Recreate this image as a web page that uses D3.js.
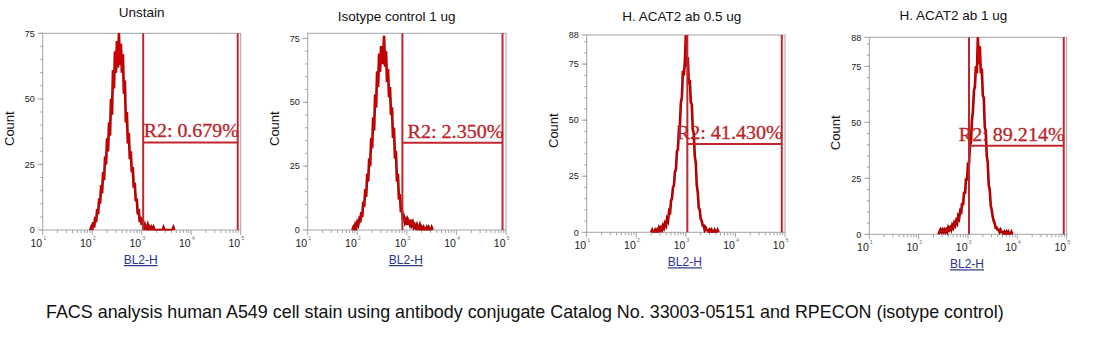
<!DOCTYPE html>
<html>
<head>
<meta charset="utf-8">
<script src="https://cdn.jsdelivr.net/npm/d3@7"></script>
<style>
  html, body { margin: 0; padding: 0; background: #fff; }
  svg { display: block; }
</style>
</head>
<body>
<svg id="chart" width="1117" height="360"></svg>
<script>
// ---------------- DATA ----------------
const panelTitles = ["Unstain", "Isotype control 1 ug", "H. ACAT2 ab 0.5 ug", "H. ACAT2 ab 1 ug"];
const xAxisLabel = "BL2-H";
const yAxisLabel = "Count";
const xTickExponents = [1, 2, 3, 4, 5];
const yMaxes = [75, 77, 88, 88];
const yTickValues = [[0, 25, 50, 75], [0, 25, 50, 75], [0, 25, 50, 75, 88], [0, 25, 50, 75, 88]];
const binWidthLog = 0.02; // decades per histogram bin

const hist1Start = 1.96;
const hist1Counts = [0, 1, 0, 3, 1, 5, 3, 8, 6, 12, 10, 17, 14, 22, 19, 28, 25, 35, 30, 41,
  36, 50, 44, 61, 54, 68, 60, 72, 62, 75, 63, 71, 60, 67, 52, 57, 41, 45, 33, 37,
  27, 30, 22, 24, 16, 18, 11, 12, 6, 8, 3, 5, 2, 3, 1, 2, 0, 1, 2, 0,
  1, 0, 1, 0, 1, 0, 0, 0, 0, 0, 0, 0, 0, 0, 1, 0, 0, 0, 0, 0,
  0, 0, 0, 0, 1, 0];

const hist2Start = 1.90;
const hist2Counts = [0, 1, 0, 2, 1, 3, 2, 4, 3, 7, 5, 11, 9, 16, 13, 22, 19, 28, 25, 36,
  32, 44, 39, 53, 48, 62, 56, 69, 62, 72, 65, 66, 76, 64, 70, 58, 63, 52, 56, 45,
  48, 36, 40, 28, 31, 19, 22, 12, 14, 7, 8, 4, 5, 3, 4, 2, 4, 3, 2, 4,
  2, 3, 1, 2, 1, 2, 0, 1, 2, 0, 1, 0, 1, 0, 0, 1, 0, 1, 0, 0,
  1, 0];

const hist3Start = 2.30;
const hist3Counts = [0, 1, 0, 0, 1, 0, 1, 0, 2, 1, 2, 1, 3, 2, 4, 3, 6, 5, 9, 8,
  14, 15, 20, 21, 27, 28, 36, 37, 46, 48, 58, 60, 72, 70, 76, 88, 74, 78, 66, 68,
  58, 57, 46, 44, 34, 31, 21, 18, 11, 10, 6, 5, 3, 3, 1, 2, 1, 1, 0, 1,
  0, 1, 0, 0, 1, 0, 0, 1, 0];

const hist4Start = 2.40;
const hist4Counts = [0, 1, 2, 1, 2, 1, 2, 1, 2, 1, 3, 2, 3, 2, 4, 3, 5, 4, 6, 5,
  8, 7, 10, 9, 14, 13, 19, 18, 25, 24, 32, 31, 40, 41, 51, 55, 64, 66, 75, 72,
  88, 76, 84, 72, 74, 62, 61, 48, 46, 35, 32, 22, 20, 13, 11, 8, 6, 5, 3, 3,
  2, 2, 1, 2, 1, 1, 0, 1, 0, 1, 0, 1, 0, 0, 1, 0];

const histStarts = [hist1Start, hist2Start, hist3Start, hist4Start];
const histCounts = [hist1Counts, hist2Counts, hist3Counts, hist4Counts];

const gateLowLog = [3.03, 2.91, 3.03, 3.02];
const gateHighLog = [4.94, 4.93, 4.935, 4.94];
const gateCount = [33.4, 34.2, 39.4, 39.6];
const gateLabels = ["R2: 0.679%", "R2: 2.350%", "R2: 41.430%", "R2: 89.214%"];

const captionText = "FACS analysis human A549 cell stain using antibody conjugate Catalog No. 33003-05151 and RPECON (isotype control)";

// ---------------- LAYOUT ----------------
const plotBoxes = [
  { left: 42.7, right: 240.7, top: 33.3, bottom: 230 },
  { left: 307.7, right: 506, top: 33.3, bottom: 230 },
  { left: 586.7, right: 785, top: 35, bottom: 232.3 },
  { left: 869.3, right: 1066.7, top: 37.3, bottom: 234.3 }
];
const titlePos = [
  { x: 141.7, y: 17 },
  { x: 396.7, y: 21 },
  { x: 681.7, y: 20.5 },
  { x: 953.3, y: 20 }
];
const gateLabelWidths = [95, 96, 106, 106];

const axisColor = "#a4a4a4";
const histColor = "#b00000";
const gateColor = "#c0262b";

const svg = d3.select("#chart");
const defs = svg.append("defs");

plotBoxes.forEach((b, i) => {
  const g = svg.append("g");
  const x = d3.scaleLog().domain([10, 1e5]).range([b.left, b.right]);
  const y = d3.scaleLinear().domain([0, yMaxes[i]]).range([b.bottom, b.top]);

  defs.append("clipPath").attr("id", "clip" + i)
    .append("rect").attr("x", b.left).attr("y", b.top - 0.5)
    .attr("width", b.right - b.left).attr("height", b.bottom - b.top + 1);

  // frame
  g.append("rect")
    .attr("x", b.left).attr("y", b.top)
    .attr("width", b.right - b.left).attr("height", b.bottom - b.top)
    .attr("fill", "none").attr("stroke", axisColor).attr("stroke-width", 1);

  // y ticks
  const yMinor = d3.range(0, yMaxes[i] + 0.001, 5);
  g.selectAll(".ymin").data(yMinor).join("line")
    .attr("x1", b.left - 2.5).attr("x2", b.left)
    .attr("y1", d => y(d)).attr("y2", d => y(d))
    .attr("stroke", axisColor).attr("stroke-width", 1);
  g.selectAll(".ymaj").data(yTickValues[i]).join("line")
    .attr("x1", b.left - 5).attr("x2", b.left)
    .attr("y1", d => y(d)).attr("y2", d => y(d))
    .attr("stroke", axisColor).attr("stroke-width", 1);
  g.selectAll(".ylab").data(yTickValues[i]).join("text")
    .attr("x", b.left - 8).attr("y", d => y(d) + 3.2)
    .attr("text-anchor", "end")
    .attr("font-family", "Liberation Sans, Arial, sans-serif")
    .attr("font-size", 9).attr("fill", "#222")
    .text(d => d);

  // x ticks
  const xMinor = [];
  for (let e = 1; e < 5; e++) for (let m = 2; m <= 9; m++) xMinor.push(m * Math.pow(10, e));
  g.selectAll(".xmin").data(xMinor).join("line")
    .attr("x1", d => x(d)).attr("x2", d => x(d))
    .attr("y1", b.bottom).attr("y2", b.bottom + 3)
    .attr("stroke", axisColor).attr("stroke-width", 1);
  g.selectAll(".xmaj").data(xTickExponents).join("line")
    .attr("x1", d => x(Math.pow(10, d))).attr("x2", d => x(Math.pow(10, d)))
    .attr("y1", b.bottom).attr("y2", b.bottom + 5)
    .attr("stroke", axisColor).attr("stroke-width", 1);
  const xl = g.selectAll(".xlab").data(xTickExponents).join("g");
  xl.append("text")
    .attr("x", d => x(Math.pow(10, d)) - 0.5).attr("y", b.bottom + 17)
    .attr("text-anchor", "end")
    .attr("font-family", "Liberation Sans, Arial, sans-serif")
    .attr("font-size", 10.5).attr("fill", "#222")
    .text("10");
  xl.append("text")
    .attr("x", d => x(Math.pow(10, d)) + 0.5).attr("y", b.bottom + 10)
    .attr("text-anchor", "start")
    .attr("font-family", "Liberation Sans, Arial, sans-serif")
    .attr("font-size", 5.5).attr("fill", "#777")
    .text(d => d);

  // histogram
  const pts = histCounts[i].map((c, k) => [Math.pow(10, histStarts[i] + k * binWidthLog), c]);
  const line = d3.line().x(d => x(d[0])).y(d => y(d[1]));
  g.append("path")
    .attr("d", line(pts))
    .attr("clip-path", "url(#clip" + i + ")")
    .attr("fill", "none").attr("stroke", "#9a0000")
    .attr("stroke-width", 2.6).attr("stroke-linejoin", "miter");
  g.append("path")
    .attr("d", line(pts))
    .attr("clip-path", "url(#clip" + i + ")")
    .attr("fill", "none").attr("stroke", "#d40000")
    .attr("stroke-width", 1).attr("stroke-linejoin", "miter");

  // gate
  const gx1 = x(Math.pow(10, gateLowLog[i]));
  const gx2 = x(Math.pow(10, gateHighLog[i]));
  const gy = y(gateCount[i]);
  g.append("line").attr("x1", gx1).attr("x2", gx1).attr("y1", b.top).attr("y2", b.bottom)
    .attr("stroke", gateColor).attr("stroke-width", 2);
  g.append("line").attr("x1", gx2).attr("x2", gx2).attr("y1", b.top).attr("y2", b.bottom)
    .attr("stroke", gateColor).attr("stroke-width", 2);
  g.append("line").attr("x1", gx1).attr("x2", gx2).attr("y1", gy).attr("y2", gy)
    .attr("stroke", gateColor).attr("stroke-width", 2);
  g.append("text")
    .attr("x", gx2 + 1).attr("y", gy - 5)
    .attr("text-anchor", "end")
    .attr("font-family", "Liberation Serif, Times New Roman, serif")
    .attr("font-size", 18).attr("fill", "#b8262b")
    .attr("stroke", "#b8262b").attr("stroke-width", 0.3)
    .attr("textLength", gateLabelWidths[i]).attr("lengthAdjust", "spacingAndGlyphs")
    .text(gateLabels[i]);

  // title
  g.append("text")
    .attr("x", titlePos[i].x).attr("y", titlePos[i].y)
    .attr("text-anchor", "middle")
    .attr("font-family", "Liberation Sans, Arial, sans-serif")
    .attr("font-size", 13.5).attr("fill", "#111")
    .text(panelTitles[i]);

  // y label
  const cy = (b.top + b.bottom) / 2 - 3;
  g.append("text")
    .attr("transform", `translate(${b.left - 29},${cy}) rotate(-90)`)
    .attr("text-anchor", "middle")
    .attr("font-family", "Liberation Sans, Arial, sans-serif")
    .attr("font-size", 13).attr("fill", "#111")
    .text(yAxisLabel);

  // x label
  g.append("text")
    .attr("x", (b.left + b.right) / 2 - 1).attr("y", b.bottom + 34)
    .attr("text-anchor", "middle")
    .attr("font-family", "Liberation Sans, Arial, sans-serif")
    .attr("font-size", 12).attr("fill", "#2a348c")
    .attr("text-decoration", "underline")
    .text(xAxisLabel);
});

svg.append("text")
  .attr("x", 46).attr("y", 318)
  .attr("font-family", "Liberation Sans, Arial, sans-serif")
  .attr("font-size", 17.9).attr("fill", "#111")
  .text(captionText);
</script>
</body>
</html>
